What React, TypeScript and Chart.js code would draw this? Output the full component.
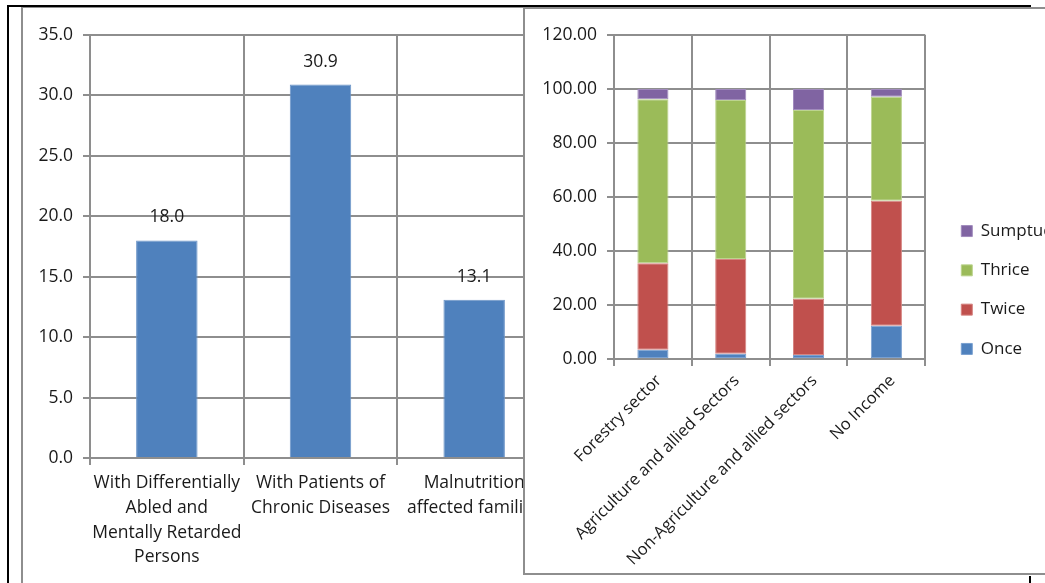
import React, { useEffect, useRef } from "react";
import { Chart, registerables } from "chart.js";

Chart.register(...registerables);

// Share of households with special members (%)
const householdCategories: string[][] = [
  ["With Differentially", "Abled and", "Mentally Retarded", "Persons"],
  ["With Patients of", "Chronic Diseases"],
  ["Malnutrition", "affected families"],
];
const householdShares = [18.0, 30.9, 13.1];

// Meal frequency by livelihood sector (%)
const sectorLabels = [
  "Forestry sector",
  "Agriculture and allied Sectors",
  "Non-Agriculture and allied sectors",
  "No Income",
];
const mealOnce = [3.4, 1.9, 1.5, 12.3];
const mealTwice = [32.1, 35.1, 20.8, 46.3];
const mealThrice = [60.7, 58.9, 69.9, 38.5];
const mealSumptuous = [3.8, 4.1, 7.8, 2.9];

const FONT = "'Open Sans', 'Noto Sans', sans-serif";
const GRID = "#8e8e8e";
const TEXT = "#1a1a1a";

const valueLabels = {
  id: "valueLabels",
  afterDatasetsDraw(chart: any) {
    const { ctx } = chart;
    const meta = chart.getDatasetMeta(0);
    ctx.save();
    ctx.font = `17.5px ${FONT}`;
    ctx.fillStyle = TEXT;
    ctx.textAlign = "center";
    ctx.textBaseline = "middle";
    meta.data.forEach((bar: any, i: number) => {
      const v = chart.data.datasets[0].data[i] as number;
      ctx.fillText(v.toFixed(1), bar.x, bar.y - 23);
    });
    ctx.restore();
  },
};

function HouseholdChart() {
  const ref = useRef<HTMLCanvasElement>(null);
  useEffect(() => {
    const chart = new Chart(ref.current!, {
      type: "bar",
      data: {
        labels: householdCategories,
        datasets: [
          {
            data: householdShares,
            backgroundColor: "#4f81bd",
            borderColor: "#6d95c8",
            borderWidth: 1,
            barPercentage: 0.4,
            categoryPercentage: 1,
          },
        ],
      },
      options: {
        responsive: false,
        animation: false,
        devicePixelRatio: 1,
        layout: { padding: { top: 26, right: 0, bottom: 0, left: 0 } },
        plugins: { legend: { display: false }, tooltip: { enabled: false } },
        scales: {
          x: {
            grid: { color: GRID, lineWidth: 2, tickLength: 7 },
            border: { color: GRID, width: 2 },
            ticks: {
              color: TEXT,
              padding: 6,
              maxRotation: 0,
              autoSkip: false,
              font: { family: FONT, size: 17.5, lineHeight: 1.41 },
            },
            afterFit: (s: any) => {
              s.height = 125;
            },
          },
          y: {
            min: 0,
            max: 35,
            grid: { color: GRID, lineWidth: 2, tickLength: 7 },
            border: { color: GRID, width: 2 },
            ticks: {
              stepSize: 5,
              color: TEXT,
              padding: 10,
              font: { family: FONT, size: 17.5 },
              callback: (v: any) => Number(v).toFixed(1),
            },
            afterFit: (s: any) => {
              s.width = 67;
            },
          },
        },
      },
      plugins: [valueLabels],
    });
    return () => chart.destroy();
  }, []);
  return <canvas ref={ref} width={528} height={574} style={{ display: "block" }} />;
}

function SectorChart() {
  const ref = useRef<HTMLCanvasElement>(null);
  useEffect(() => {
    const series = [
      { label: "Once", data: mealOnce, bg: "#4f81bd", bd: "#7aa0d0" },
      { label: "Twice", data: mealTwice, bg: "#c0504d", bd: "#d68481" },
      { label: "Thrice", data: mealThrice, bg: "#9bbb59", bd: "#bcd48e" },
      { label: "Sumptuous", data: mealSumptuous, bg: "#8064a2", bd: "#a18bbd" },
    ];
    const chart = new Chart(ref.current!, {
      type: "bar",
      data: {
        labels: sectorLabels,
        datasets: series.map((s) => ({
          label: s.label,
          data: s.data,
          backgroundColor: s.bg,
          borderColor: s.bd,
          borderWidth: 1,
          borderSkipped: false,
          barPercentage: 0.4,
          categoryPercentage: 1,
          xAxisID: "x",
          yAxisID: "y",
        })),
      },
      options: {
        responsive: false,
        animation: false,
        devicePixelRatio: 1,
        layout: { padding: 0 },
        plugins: {
          tooltip: { enabled: false },
          legend: {
            position: "right",
            reverse: true,
            maxWidth: 110,
            labels: {
              boxWidth: 11,
              boxHeight: 11,
              padding: 22.3,
              color: TEXT,
              font: { family: FONT, size: 17 },
            },
          },
        },
        scales: {
          x: {
            stacked: true,
            grid: { color: GRID, lineWidth: 2, tickLength: 7 },
            border: { color: GRID, width: 2 },
            ticks: {
              color: TEXT,
              autoSkip: false,
              minRotation: 45,
              maxRotation: 45,
              padding: 5,
              labelOffset: 6,
              font: { family: FONT, size: 16.5 },
            },
            afterFit: (s: any) => {
              s.height = 212;
            },
          },
          // empty band above the plot
          xTop: {
            type: "linear",
            position: "top",
            grid: { display: false, drawTicks: false },
            border: { display: false },
            ticks: { display: false },
            afterFit: (s: any) => {
              s.height = 26;
            },
          },
          y: {
            stacked: true,
            min: 0,
            max: 120,
            grid: { color: GRID, lineWidth: 2, tickLength: 7 },
            border: { color: GRID, width: 2 },
            ticks: {
              stepSize: 20,
              color: TEXT,
              padding: 10,
              font: { family: FONT, size: 17.5 },
              callback: (v: any) => Number(v).toFixed(2),
            },
            afterFit: (s: any) => {
              s.width = 89;
            },
          },
          // spacer between the plot and the legend
          yGap: {
            type: "linear",
            position: "right",
            grid: { display: false, drawTicks: false },
            border: { display: false },
            ticks: { display: false },
            afterFit: (s: any) => {
              s.width = 13.7;
            },
          },
        },
      } as any,
    });
    return () => chart.destroy();
  }, []);
  return <canvas ref={ref} width={524} height={562} style={{ display: "block" }} />;
}

export default function App() {
  return (
    <div
      style={{
        position: "fixed",
        left: 0,
        top: 0,
        width: 1045,
        height: 583,
        overflow: "hidden",
        background: "#fff",
      }}
    >
      {/* outer frame */}
      <div style={{ position: "absolute", left: 7, top: 5, width: 1024, height: 2, background: "#000" }} />
      <div style={{ position: "absolute", left: 7, top: 5, width: 2, height: 578, background: "#000" }} />
      <div style={{ position: "absolute", left: 1029, top: 576, width: 2, height: 7, background: "#000" }} />

      {/* left panel */}
      <div
        style={{
          position: "absolute",
          left: 21,
          top: 7,
          width: 700,
          height: 600,
          borderLeft: `2px solid ${GRID}`,
          borderTop: `1px solid ${GRID}`,
        }}
      />
      <div style={{ position: "absolute", left: 23, top: 9 }}>
        <HouseholdChart />
      </div>

      {/* right panel */}
      <div
        style={{
          position: "absolute",
          left: 523,
          top: 7,
          width: 600,
          height: 564,
          border: `2px solid ${GRID}`,
          background: "#fff",
          zIndex: 2,
        }}
      >
        <SectorChart />
      </div>
    </div>
  );
}
